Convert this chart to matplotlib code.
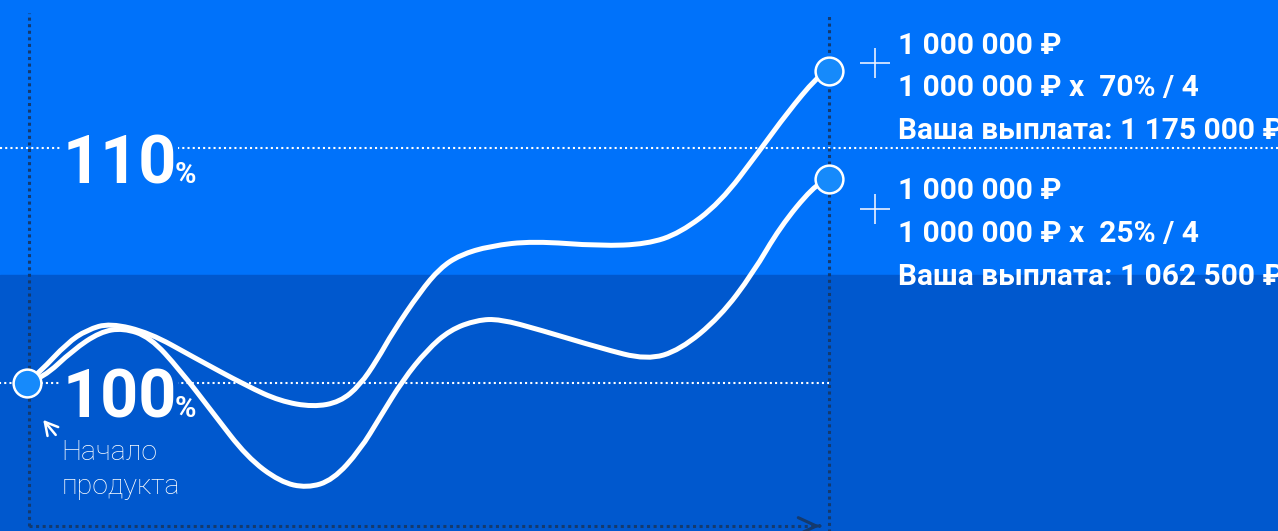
import numpy as np
import matplotlib
matplotlib.use("Agg")
import matplotlib.pyplot as plt
from matplotlib.path import Path
from matplotlib.patches import PathPatch

# ------------------------------------------------------------------
# data: time in quarters, value in % of plan
# ------------------------------------------------------------------
upper_t = [0.0, 0.065, 0.200, 0.299, 0.414, 0.613, 0.828, 1.097, 1.262, 1.426,
           1.561, 1.661, 1.746, 1.825, 1.960, 2.060, 2.160, 2.309, 2.524, 2.858,
           3.092, 3.257, 3.456, 3.656, 3.791, 3.940, 4.0]
upper_v = [100.0, 100.47, 101.70, 102.26, 102.55, 102.13, 101.11, 99.87, 99.23, 98.98,
           99.19, 99.91, 100.98, 102.17, 103.87, 104.89, 105.45, 105.83, 106.04, 105.83,
           105.91, 106.38, 107.66, 109.91, 111.49, 113.02, 113.28]

lower_t = [0.0, 0.080, 0.229, 0.364, 0.479, 0.613, 0.763, 0.928, 1.097, 1.262,
           1.397, 1.526, 1.661, 1.761, 1.875, 1.995, 2.110, 2.244, 2.359, 2.559,
           2.858, 3.092, 3.257, 3.456, 3.621, 3.756, 3.920, 4.0]
lower_v = [100.0, 100.21, 101.40, 102.17, 102.34, 101.96, 100.55, 98.72, 96.85, 95.79,
           95.53, 95.87, 97.15, 98.55, 100.13, 101.40, 102.26, 102.68, 102.72, 102.26,
           101.49, 100.98, 101.40, 102.81, 104.68, 106.64, 108.34, 108.68]

ref_levels = [100, 110]
level_labels = ["100", "110"]
start_label = ["Начало", "продукта"]
upper_text = ["1 000 000 ₽", "1 000 000 ₽ x  70% / 4", "Ваша выплата: 1 175 000 ₽"]
lower_text = ["1 000 000 ₽", "1 000 000 ₽ x  25% / 4", "Ваша выплата: 1 062 500 ₽"]

# ------------------------------------------------------------------
# colours / style
# ------------------------------------------------------------------
c_top = "#0072FA"
c_bot = "#0058CE"
c_dark = "#143A6E"
c_dot = "#168AFB"
main_font = ["Roboto", "DejaVu Sans"]


def smooth_path(ts, vs):
    # quadratic bezier through the read points (midpoint smoothing)
    pts = np.column_stack([ts, vs])
    verts, codes = [pts[0]], [Path.MOVETO]
    for i in range(1, len(pts) - 1):
        verts += [pts[i], (pts[i] + pts[i + 1]) / 2]
        codes += [Path.CURVE3, Path.CURVE3]
    verts.append(pts[-1])
    codes.append(Path.LINETO)
    return Path(verts, codes)


fig = plt.figure(figsize=(12.78, 5.31), dpi=100)
ax = fig.add_axes([0, 0, 1, 1])
ax.set_xlim(-0.1347, 6.2394)
ax.set_ylim(93.702, 116.298)
ax.axis("off")

# ─── background bands ─────────────────────────────────────────
ax.axhspan(104.6, 117, color=c_top, zorder=0)
ax.axhspan(90, 104.6, color=c_bot, zorder=0)

# ─── reference lines (white dotted) ───────────────────────────
ax.axhline(ref_levels[1], color="white", lw=1.5, ls=(0, (1, 1.5)), zorder=1)
ax.plot([-0.2, 4.0], [ref_levels[0]] * 2, color="white", lw=1.5, ls=(0, (1, 1.5)), zorder=1)

# ─── frame (dark dotted) ──────────────────────────────────────
dark_ls = (0, (1, 1.15))
ax.plot([0.01, 0.01], [93.915, 115.745], color=c_dark, lw=2.2, ls=dark_ls, zorder=1)
ax.plot([4.0, 4.0], [93.0, 115.745], color=c_dark, lw=2.2, ls=dark_ls, zorder=1)
ax.plot([0.01, 3.93], [93.915, 93.915], color=c_dark, lw=2.2, ls=dark_ls, zorder=1)
ax.annotate("", xy=(3.955, 93.915), xytext=(3.94, 93.915),
            arrowprops=dict(arrowstyle="->,head_length=1.3,head_width=0.6",
                            color=c_dark, lw=2.2, mutation_scale=10), zorder=1)

# ─── level labels ─────────────────────────────────────────────
for lev, lab, bg in zip(ref_levels, level_labels, [c_bot, c_top]):
    base = lev - 1.447 if lev == 100 else lev - 1.49
    ax.text(0.175, base, lab, fontsize=48, fontweight="bold", color="white",
            family=main_font, ha="left", va="baseline", zorder=2,
            bbox=dict(boxstyle="square,pad=0.02", fc=bg, ec="none"))
    ax.text(0.735, base, "%", fontsize=21, fontweight="bold", color="white",
            family=main_font, ha="left", va="baseline", zorder=2)

# ─── curves ──────────────────────────────────────────────────
for ts, vs in [(upper_t, upper_v), (lower_t, lower_v)]:
    ax.add_patch(PathPatch(smooth_path(ts, vs), fill=False, ec="white", lw=3.6,
                           capstyle="round", joinstyle="round", zorder=3))

ax.plot([upper_t[0]], [upper_v[0]], "o", ms=20, mfc=c_dot, mec="white", mew=1.8, zorder=4)
ax.plot([upper_t[-1], lower_t[-1]], [upper_v[-1], lower_v[-1]], "o", ms=20,
        mfc=c_dot, mec="white", mew=1.8, ls="none", zorder=4)

# ─── start annotation ────────────────────────────────────────
ax.annotate("", xy=(0.072, 98.52), xytext=(0.152, 97.7),
            arrowprops=dict(arrowstyle="->,head_length=0.9,head_width=0.5",
                            color="white", lw=1.8), zorder=4)
ax.text(0.172, 96.74, start_label[0], fontsize=20.5, fontweight="light", color="white",
        family=main_font, ha="left", va="baseline", zorder=4)
ax.text(0.172, 95.26, start_label[1], fontsize=20.5, fontweight="light", color="white",
        family=main_font, ha="left", va="baseline", zorder=4)

# ─── payout texts ────────────────────────────────────────────
ax.plot([4.229, 4.229], [113.62, 107.40], "+", ms=22, mew=1.2, color="#E8F0FF",
        ls="none", zorder=4)
for lines, bases in [(upper_text, [114.0, 112.2, 110.38]),
                     (lower_text, [107.83, 106.0, 104.17])]:
    for s, b in zip(lines, bases):
        ax.text(4.344, b, s, fontsize=21.5, fontweight="bold", color="white",
                family=main_font, ha="left", va="baseline", zorder=4)

fig.savefig("out.png", dpi=100)
